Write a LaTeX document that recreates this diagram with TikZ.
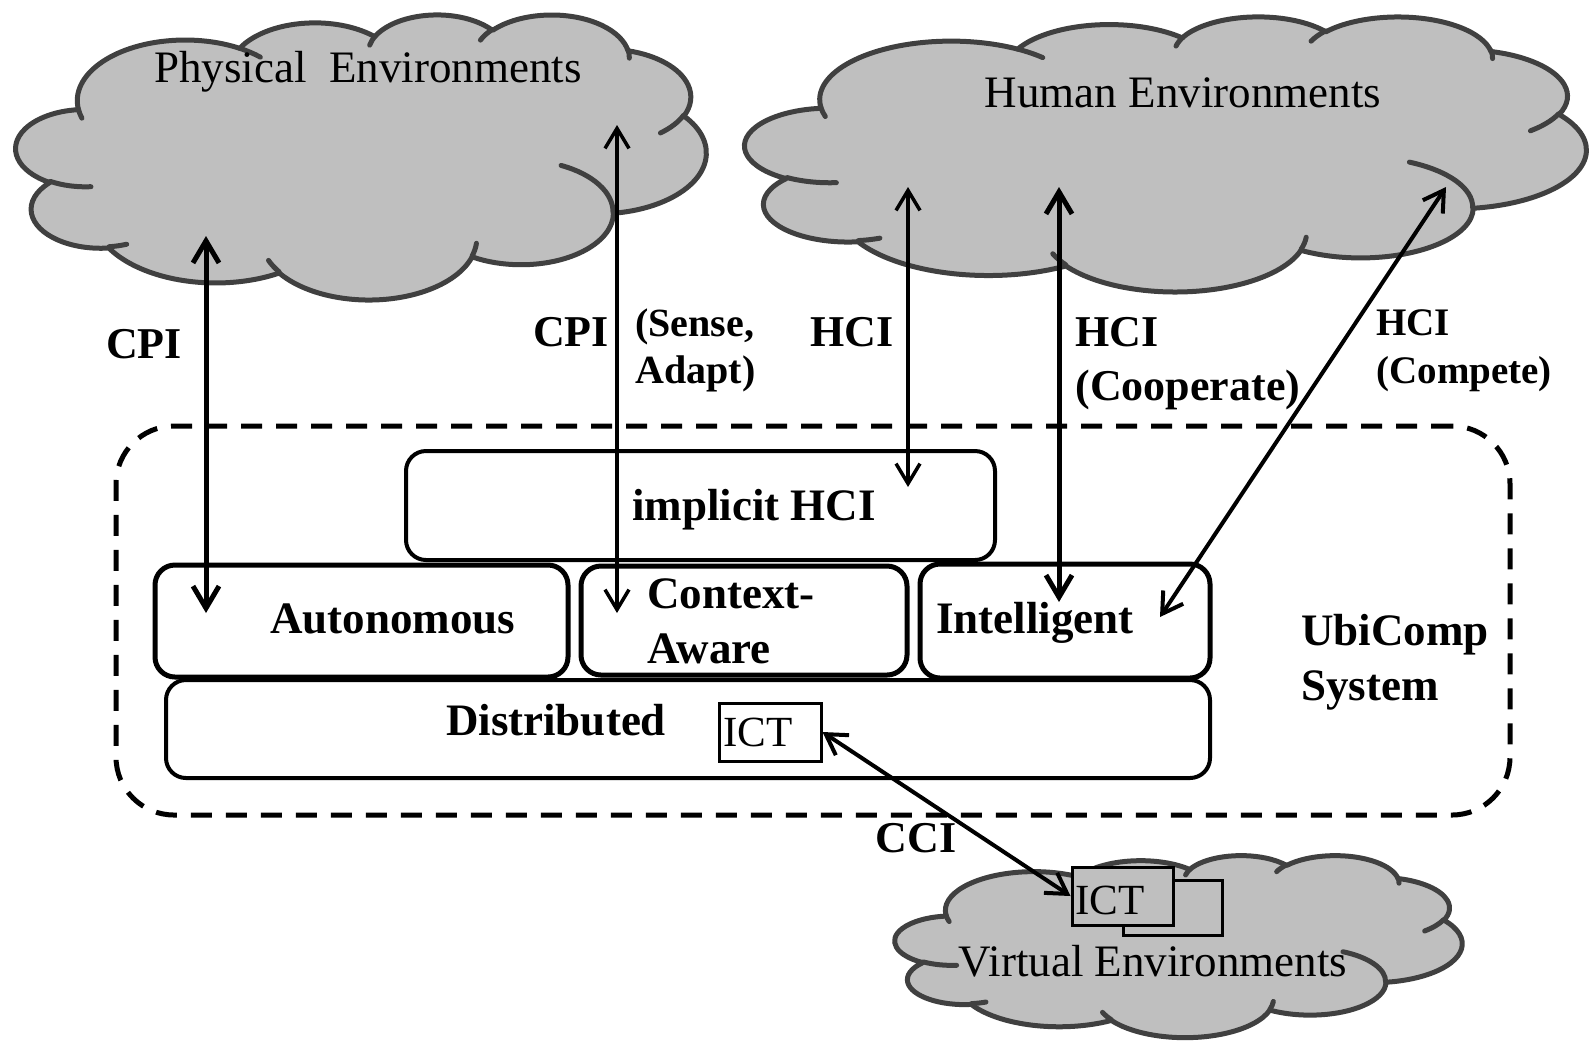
\documentclass[tikz,border=0pt]{standalone}
\usepackage{fontspec}
\setmainfont{Liberation Serif}
\usetikzlibrary{arrows.meta}
\definecolor{cloudfill}{HTML}{BFBFBF}
\definecolor{cloudline}{HTML}{404040}

\newcommand{\ubicloud}[5]{%
\begin{scope}[shift={(#1,#2)},xscale=#3,yscale=#4]
\path[cloudshape] (0.09028,0.33264)
 arc[start angle=-187.75, end angle=-59.63, x radius=0.15632, y radius=0.21273]
 arc[start angle=-152.05, end angle=-45.43, x radius=0.12345, y radius=0.16822]
 arc[start angle=-153.50, end angle=-37.32, x radius=0.10104, y radius=0.13762]
 arc[start angle=-139.72, end angle=-10.21, x radius=0.11243, y radius=0.15266]
 arc[start angle=-74.77, end angle=23.21, x radius=0.12345, y radius=0.16836]
 arc[start angle=-37.52, end angle=81.86, x radius=0.15683, y radius=0.21343]
 arc[start angle=0.46, end angle=121.98, x radius=0.13391, y radius=0.18211]
 arc[start angle=16.84, end angle=146.23, x radius=0.15630, y radius=0.21331]
 arc[start angle=58.99, end angle=150.19, x radius=0.17870, y radius=0.24405]
 arc[start angle=-276.69, end angle=-136.88, x radius=0.10093, y radius=0.13699]
 arc[start angle=-239.64, end angle=-95.89, x radius=0.10058, y radius=0.13762]
 -- cycle;
\path[cloudtail]
 (0.10863,0.60595) arc[start angle=85.55, end angle=120.36, x radius=0.10058, y radius=0.13762]
 (0.16037,0.80785) arc[start angle=68.24, end angle=83.31, x radius=0.10093, y radius=0.13699]
 (0.38144,0.90486) arc[start angle=146.23, end angle=158.48, x radius=0.15630, y radius=0.21331]
 (0.66729,0.80442) arc[start angle=4.74, end angle=16.84, x radius=0.15630, y radius=0.21331]
 (0.79002,0.53134) arc[start angle=-64.03, end angle=0.46, x radius=0.13391, y radius=0.18211]
 (0.96755,0.35542) arc[start angle=23.21, end angle=49.64, x radius=0.12345, y radius=0.16836]
 (0.88713,0.12560) arc[start angle=-10.21, end angle=0.82, x radius=0.11243, y radius=0.15266]
 (0.67310,0.09148) arc[start angle=-156.29, end angle=-139.72, x radius=0.11243, y radius=0.15266]
 (0.51252,0.10926) arc[start angle=-167.73, end angle=-153.50, x radius=0.10104, y radius=0.13762]
 (0.32407,0.12019) arc[start angle=-59.63, end angle=-45.74, x radius=0.15632, y radius=0.21273]
 (0.09553,0.36549) arc[start angle=163.20, end angle=172.25, x radius=0.15632, y radius=0.21273];
\coordinate (#5) at (0.5,0.5);
\end{scope}}

\begin{document}
\begin{tikzpicture}[x=0.5pt,y=-0.5pt,
  cloudshape/.style={fill=cloudfill, draw=cloudline, line width=2.5pt, line join=round},
  cloudtail/.style={draw=cloudline, line width=2.5pt, line cap=round},
  cloudtext/.style={font=\fontsize{22.5}{27}\selectfont, inner sep=0pt},
  boxtext/.style={font=\bfseries\fontsize{22.5}{27.5}\selectfont, inner sep=0pt},
  lbl/.style={font=\bfseries\fontsize{22}{27}\selectfont, inner sep=0pt},
  ictfont/.style={font=\fontsize{21.5}{26}\selectfont, inner sep=0pt},
  layer/.style={draw, rounded corners=10pt, line width=2.5pt, inner sep=0pt},
  ictbox/.style={draw, line width=1.5pt, inner sep=0pt},
  frame/.style={draw, dash pattern=on 10.5pt off 7pt, line width=2.5pt, rounded corners=29pt, inner sep=0pt},
  thickarrow/.style={line width=2.5pt, {Straight Barb[length=11pt,width=13pt]}-{Straight Barb[length=11pt,width=13pt]}},
  thinarrow/.style={line width=1.75pt, {Straight Barb[length=10pt,width=12pt]}-{Straight Barb[length=10pt,width=12pt]}},
  midarrow/.style={line width=2pt, {Straight Barb[length=10pt,width=12pt]}-{Straight Barb[length=10pt,width=12pt]}}
]
\useasboundingbox (0,0) rectangle (1590,1041);

% clouds
\ubicloud{16}{14}{690}{285}{physC}
\ubicloud{745}{16}{841}{275}{humC}
\ubicloud{895}{855}{567}{182}{virC}

\node[cloudtext, anchor=base] (physT) at (368,82) {Physical~~Environments};
\node[cloudtext, anchor=base] (humT) at (1183,107) {Human Environments};

% virtual ICT boxes
\node[ictbox, fill=cloudfill, minimum width=49.5pt, minimum height=27.5pt] (ictB) at (1172.5,907.5) {};
\node[ictbox, fill=cloudfill, minimum width=50.5pt, minimum height=29pt] (ictF) at (1122.5,896) {};
\node[ictfont, anchor=base west] (ictFt) at (1075,914) {ICT};
\node[cloudtext, anchor=base] (virT) at (1153,976) {Virtual Environments};

% UbiComp system
\node[frame, minimum width=697pt, minimum height=194.5pt] (ubi) at (813,620.5) {};
\node[layer, line width=2pt, minimum width=294.5pt, minimum height=54.5pt] (implicit) at (700.5,505.5) {};
\node[layer, minimum width=206.5pt, minimum height=56pt] (auton) at (361.5,621) {};
\node[layer, minimum width=163pt, minimum height=54.5pt] (context) at (744,620.5) {};
\node[layer, minimum width=145pt, minimum height=57pt] (intel) at (1065,621) {};
\node[layer, line width=2pt, minimum width=522pt, minimum height=49pt] (distrib) at (688,729) {};
\node[ictbox, minimum width=51pt, minimum height=29pt] (ictA) at (770,732) {};
\node[ictfont, anchor=base west] (ictAt) at (723,746) {ICT};

\node[boxtext, anchor=base] (impT) at (754,520) {implicit HCI};
\node[boxtext, anchor=base] (autT) at (393,633) {Autonomous};
\node[boxtext, anchor=base west, align=left] (ctxT) at (647,663) {Context-\\Aware};
\node[boxtext, anchor=base] (intT) at (1035,633) {Intelligent};
\node[boxtext, anchor=base] (disT) at (556,735) {Distributed};
\node[boxtext, anchor=base west, align=left] (ubiT) at (1301,700) {UbiComp\\System};

% labels
\node[lbl, anchor=base] (cpi1) at (144,358) {CPI};
\node[lbl, anchor=base] (cpi2) at (571,346) {CPI};
\node[lbl, anchor=base west, align=left, font=\bfseries\fontsize{20}{23.5}\selectfont] (sense) at (635,383) {(Sense,\\Adapt)};
\node[lbl, anchor=base] (hci1) at (852,346) {HCI};
\node[lbl, anchor=base west, align=left] (hci2) at (1075,400) {HCI\\(Cooperate)};
\node[lbl, anchor=base west, align=left, font=\bfseries\fontsize{19.5}{24}\selectfont] (hci3) at (1376,383) {HCI\\(Compete)};
\node[lbl, anchor=base] (cci) at (916,852) {CCI};

% arrow end points
\coordinate (a1t) at (206,236);
\coordinate (a1b) at (206,613);
\coordinate (a2t) at (617,125);
\coordinate (a2b) at (617,613);
\coordinate (a3t) at (908,187);
\coordinate (a3b) at (908,487);
\coordinate (a4t) at (1059,187);
\coordinate (a4b) at (1059,602);
\coordinate (a5t) at (1446,187);
\coordinate (a5b) at (1160,617);

\draw[thickarrow] (a1t) -- (a1b);
\draw[thinarrow] (a2t) -- (a2b);
\draw[thinarrow] (a3t) -- (a3b);
\draw[thickarrow] (a4t) -- (a4b);
\draw[midarrow] (a5t) -- (a5b);
\draw[midarrow] (ictA.east) -- (ictF.west);
\end{tikzpicture}
\end{document}
